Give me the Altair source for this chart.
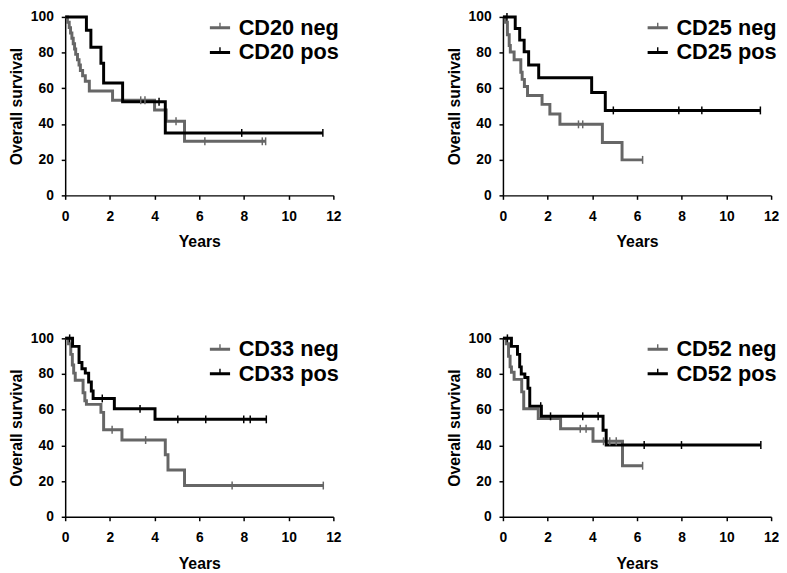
import altair as alt
import pandas as pd

GRAY = "#666666"
BLACK = "#000000"
FONT = "Liberation Sans"

# ---------------- data ----------------
markers = ["CD20", "CD25", "CD33", "CD52"]
x_ticks = [0, 2, 4, 6, 8, 10, 12]
y_ticks = [0, 20, 40, 60, 80, 100]

# CD20
cd20_neg_time = [0, 0.1, 0.18, 0.24, 0.3, 0.36, 0.42, 0.47, 0.55, 0.62, 0.68, 0.78, 0.9, 1.08, 2.12, 4.0, 4.52, 5.34, 8.97]
cd20_neg_surv = [100, 97, 94, 91, 88, 85, 82, 79, 76, 73, 70, 67, 64, 58.5, 53.3, 47.8, 41.5, 30.3, 30.3]
cd20_neg_cens_time = [3.38, 3.57, 4.96, 6.25, 8.82, 8.97]
cd20_neg_cens_surv = [53.3, 53.3, 41.5, 30.3, 30.3, 30.3]
cd20_pos_time = [0, 0.95, 1.15, 1.6, 1.72, 2.57, 4.48, 11.53]
cd20_pos_surv = [100, 92.5, 83, 74, 63, 52.5, 35, 35]
cd20_pos_cens_time = [4.2, 7.9, 11.53]
cd20_pos_cens_surv = [52.5, 35, 35]

# CD25
cd25_neg_time = [0, 0.1, 0.2, 0.28, 0.33, 0.5, 0.8, 0.86, 0.96, 1.1, 1.75, 2.1, 2.55, 4.45, 5.33, 6.25]
cd25_neg_surv = [100, 97, 90, 84, 80.3, 76, 69, 65, 61, 56, 51, 45.6, 39.8, 29.6, 19.9, 19.9]
cd25_neg_cens_time = [3.38, 3.57, 6.25]
cd25_neg_cens_surv = [39.8, 39.8, 19.9]
cd25_pos_time = [0, 0.55, 0.75, 0.95, 1.15, 1.6, 3.97, 4.58, 11.52]
cd25_pos_surv = [100, 93.5, 87, 80.5, 73, 65.9, 57.6, 47.6, 47.6]
cd25_pos_cens_time = [0.18, 4.94, 7.87, 8.9, 11.52]
cd25_pos_cens_surv = [100, 47.6, 47.6, 47.6, 47.6]

# CD33
cd33_neg_time = [0, 0.15, 0.25, 0.32, 0.38, 0.45, 0.8, 0.88, 0.95, 1.6, 1.72, 2.54, 4.48, 4.6, 5.34, 11.55]
cd33_neg_surv = [100, 97, 91, 85, 80.5, 76.5, 69.5, 65, 63, 58.5, 48.8, 43, 34.8, 26.2, 17.5, 17.5]
cd33_neg_cens_time = [2.1, 3.6, 7.47, 11.55]
cd33_neg_cens_surv = [48.8, 43, 17.5, 17.5]
cd33_pos_time = [0, 0.33, 0.62, 0.75, 0.9, 1.05, 1.17, 1.25, 2.2, 4.02, 9.0]
cd33_pos_surv = [100, 95.5, 86.5, 83, 80.5, 75.5, 70.5, 66.3, 60.5, 54.6, 54.6]
cd33_pos_cens_time = [0.2, 1.66, 3.35, 5.04, 6.29, 7.99, 8.28, 9.0]
cd33_pos_cens_surv = [100, 66.3, 60.5, 54.6, 54.6, 54.6, 54.6, 54.6]

# CD52
cd52_neg_time = [0, 0.15, 0.25, 0.32, 0.38, 0.5, 0.84, 0.93, 1.58, 2.58, 4.03, 5.35, 6.25]
cd52_neg_surv = [100, 97, 90, 84, 81, 77, 70, 60.5, 55, 49.3, 42.3, 28.6, 28.6]
cd52_neg_cens_time = [3.46, 3.72, 4.5, 4.78, 5.07, 6.25]
cd52_neg_cens_surv = [49.3, 49.3, 42.3, 42.3, 42.3, 28.6]
cd52_pos_time = [0, 0.38, 0.65, 0.75, 0.82, 0.98, 1.12, 1.2, 1.72, 4.48, 4.62, 11.54]
cd52_pos_surv = [100, 95.5, 91, 84, 80, 78, 72, 62, 56.3, 48.5, 40.2, 40.2]
cd52_pos_cens_time = [0.2, 1.69, 2.13, 3.57, 4.26, 6.32, 7.99, 11.54]
cd52_pos_cens_surv = [100, 62, 56.3, 56.3, 56.3, 40.2, 40.2, 40.2]

panel_data = {
    "CD20": (cd20_neg_time, cd20_neg_surv, cd20_neg_cens_time, cd20_neg_cens_surv,
             cd20_pos_time, cd20_pos_surv, cd20_pos_cens_time, cd20_pos_cens_surv),
    "CD25": (cd25_neg_time, cd25_neg_surv, cd25_neg_cens_time, cd25_neg_cens_surv,
             cd25_pos_time, cd25_pos_surv, cd25_pos_cens_time, cd25_pos_cens_surv),
    "CD33": (cd33_neg_time, cd33_neg_surv, cd33_neg_cens_time, cd33_neg_cens_surv,
             cd33_pos_time, cd33_pos_surv, cd33_pos_cens_time, cd33_pos_cens_surv),
    "CD52": (cd52_neg_time, cd52_neg_surv, cd52_neg_cens_time, cd52_neg_cens_surv,
             cd52_pos_time, cd52_pos_surv, cd52_pos_cens_time, cd52_pos_cens_surv),
}

LEGEND_SYMBOL = "M-1,-0.15H1V0.15H-1Z M-0.07,-0.15V-0.5H0.07V-0.15Z"


def make_panel(marker):
    nt, ns, nct, ncs, pt, ps, pct, pcs = panel_data[marker]
    neg_lab, pos_lab = f"{marker} neg", f"{marker} pos"
    curve = pd.DataFrame({
        "t": nt + pt,
        "s": ns + ps,
        "g": [neg_lab] * len(nt) + [pos_lab] * len(pt),
    })
    cens = pd.DataFrame({
        "t": nct + pct,
        "s": ncs + pcs,
        "g": [neg_lab] * len(nct) + [pos_lab] * len(pct),
    })
    cscale = alt.Scale(domain=[neg_lab, pos_lab], range=[GRAY, BLACK])
    x = alt.X("t:Q", scale=alt.Scale(domain=[0, 12], nice=False, zero=True),
              axis=alt.Axis(values=x_ticks, title="Years"))
    y = alt.Y("s:Q", scale=alt.Scale(domain=[0, 100], nice=False),
              axis=alt.Axis(values=y_ticks, title="Overall survival"))
    legend = alt.Legend(
        title=None, orient="none", legendX=146, legendY=0,
        symbolType=LEGEND_SYMBOL, symbolSize=420, symbolStrokeWidth=0,
        symbolOpacity=1,
        labelFont=FONT, labelFontSize=22, labelFontWeight="bold", labelColor=BLACK,
        labelOffset=8, rowPadding=3, padding=0, labelLimit=300,
    )
    line = alt.Chart(curve).mark_line(interpolate="step-after", strokeWidth=3).encode(
        x=x, y=y, color=alt.Color("g:N", scale=cscale, legend=legend)
    )
    ticks = alt.Chart(cens).mark_tick(orient="vertical", size=8, thickness=1.5, opacity=1).encode(
        x=x, y=y,
        color=alt.Color("g:N", scale=cscale, legend=legend),
    )
    return alt.layer(line, ticks).properties(width=272, height=181)


top = alt.hconcat(make_panel("CD20"), make_panel("CD25"), spacing=106).resolve_scale(color="independent")
bottom = alt.hconcat(make_panel("CD33"), make_panel("CD52"), spacing=106).resolve_scale(color="independent")

chart = alt.vconcat(top, bottom, spacing=83).resolve_scale(color="independent").properties(
    padding={"left": 0, "top": -2, "right": 0, "bottom": 0}
).configure_view(stroke=None).configure_axis(
    grid=False,
    domainColor=BLACK, domainWidth=1.5,
    tickColor=BLACK, tickWidth=1.5, tickSize=4,
    labelFont=FONT, labelFontSize=14, labelFontWeight="bold", labelColor=BLACK,
    titleFont=FONT, titleFontSize=16, titleFontWeight="bold", titleColor=BLACK,
    labelFlush=False,
).configure_axisX(labelPadding=10, titlePadding=11).configure_axisY(labelPadding=8, titlePadding=6)

chart.save("out.html", embed_options={"renderer": "svg", "actions": False})
